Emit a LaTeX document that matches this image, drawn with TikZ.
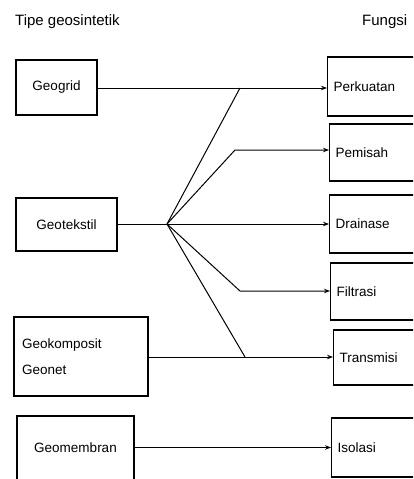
\documentclass[tikz,border=0pt]{standalone}
\usepackage{fontspec}
\setmainfont{Liberation Sans}
\usetikzlibrary{arrows.meta}
\begin{document}
\begin{tikzpicture}[x=1pt,y=-1pt,
  lbox/.style={draw,line width=1.1pt,inner sep=0pt,align=center,font=\fontsize{13.5}{15}\selectfont},
  rbox/.style={draw,line width=1.1pt,anchor=west,inner xsep=6pt,inner ysep=0pt,text width=100pt,align=left,font=\fontsize{13.5}{15}\selectfont},
  ttl/.style={anchor=west,inner sep=0pt,font=\fontsize{15}{17}\selectfont},
  conn/.style={line width=1pt},
  arr/.style={conn,-{Stealth[length=6pt,width=4.5pt]}}]
\useasboundingbox (0,0) rectangle (413,479);
\clip (0,0) rectangle (413,479);
\fill[white] (0,0) rectangle (413,479);
% titles
\node[ttl] (t1) at (15,22) {Tipe geosintetik};
\node[ttl] (t2) at (362,22) {Fungsi};
% left boxes
\node[lbox,minimum width=81,minimum height=55] (geogrid) at (56.5,87.5) {Geogrid};
\node[lbox,minimum width=101,minimum height=53] (geotek) at (66.5,224.5) {Geotekstil};
\node[lbox,minimum height=79,text width=118,inner xsep=8pt,align=left] (geokomp) at (81,356.5) {Geokomposit\\[11pt]Geonet};
\node[lbox,minimum width=117,minimum height=64] (geomem) at (75.5,448) {Geomembran};
% right boxes
\node[rbox,minimum height=59] (perk) at (327,86.5) {Perkuatan};
\node[rbox,minimum height=57] (pemi) at (329,152.5) {Pemisah};
\node[rbox,minimum height=58] (drain) at (329,224) {Drainase};
\node[rbox,minimum height=57] (filt) at (330,291.5) {Filtrasi};
\node[rbox,minimum height=55] (trans) at (333,357.5) {Transmisi};
\node[rbox,minimum height=59] (isol) at (331,447.5) {Isolasi};
% junctions
\coordinate (hub) at (167,224);
\coordinate (j1) at (240,88);
\coordinate (j2) at (235,150);
\coordinate (j3) at (240,291);
\coordinate (j4) at (245,357);
% connectors
\draw[arr] (geogrid.east |- j1) -- (j1 -| perk.west);
\draw[conn] (geotek.east |- hub) -- (hub);
\draw[conn] (hub) -- (j1);
\draw[arr] (hub) -- (j2) -- (j2 -| pemi.west);
\draw[arr] (hub) -- (hub -| drain.west);
\draw[arr] (hub) -- (j3) -- (j3 -| filt.west);
\draw[conn] (hub) -- (j4);
\draw[arr] (geokomp.east |- j4) -- (j4 -| trans.west);
\draw[arr] (geomem.east |- isol.west) -- (isol.west);
\end{tikzpicture}
\end{document}
